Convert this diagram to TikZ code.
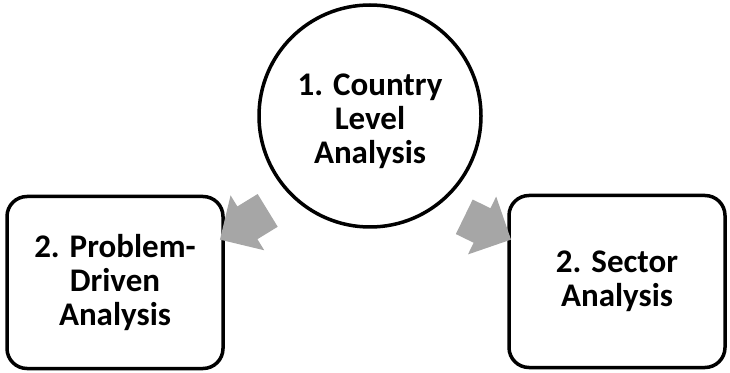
\documentclass[tikz,border=0pt]{standalone}
\usepackage{fontspec}
\setmainfont{Carlito}
\usetikzlibrary{shapes.arrows}

\definecolor{arrowgray}{HTML}{A6A6A6}

\tikzset{
  stagetext/.style={align=center, font=\fontsize{33}{34}\selectfont\bfseries},
  stage/.style={stagetext, draw=black, line width=3.5pt, fill=white},
  stagebox/.style={stage, rounded corners=20pt, minimum width=216pt, minimum height=172pt},
  stagecircle/.style={stage, circle, minimum size=222pt},
  blockarrow/.style={single arrow, fill=arrowgray, draw=none, inner xsep=0pt,
    inner ysep=19pt, single arrow head extend=13pt, minimum height=56pt}
}

\begin{document}
\begin{tikzpicture}[x=1pt, y=1pt]
  \useasboundingbox (0,0) rectangle (730,372);

  \node[stagecircle, label={[stagetext, yshift=-5pt]center:{1. Country\\Level\\Analysis}}] (country) at (370,256) {};
  \node[stagebox] (problem) at (115,89.5) {2. Problem-\\Driven\\Analysis};
  \node[stagebox] (sector) at (617,90.5) {2. Sector\\Analysis};

  \node[blockarrow, rotate=211.5] (toproblem) at (252,152) {};
  \node[blockarrow, rotate=-26, minimum height=52pt] (tosector) at (479,148) {};
\end{tikzpicture}
\end{document}
